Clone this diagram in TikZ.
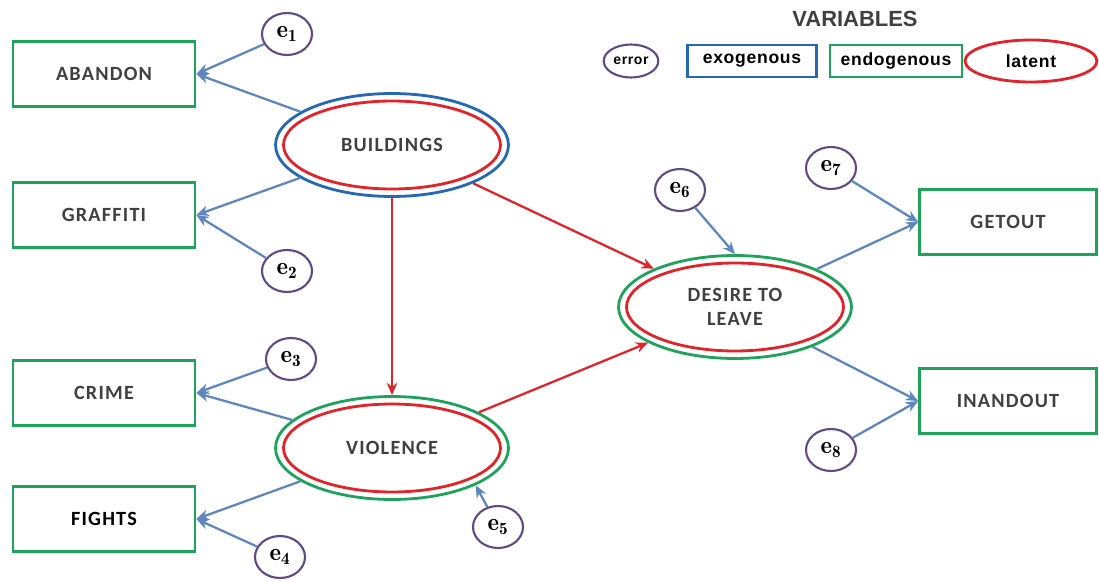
\documentclass[tikz,border=0pt]{standalone}
\usepackage{fontspec}
\usepackage{amsmath}
\newfontfamily\labfont[LetterSpace=6]{Carlito}
\newfontfamily\keyfont[LetterSpace=4]{Liberation Sans}
\newfontfamily\headfont{Liberation Sans}
\usetikzlibrary{positioning,shapes.geometric,arrows.meta}
\definecolor{ink}   {HTML}{404040}
\definecolor{leaf}  {HTML}{1FA25A}
\definecolor{sky}   {HTML}{2369B3}
\definecolor{blood} {HTML}{E0242B}
\definecolor{plum}  {HTML}{5E4A86}
\definecolor{steel} {HTML}{5F86BE}
\tikzset{
  >=Stealth,
  % --- nodes
  obs/.style   = {rectangle, draw=leaf, line width=1.6pt, fill=white,
                  minimum width=3.64cm, minimum height=1.3cm, inner sep=2pt, text=ink,
                  font=\labfont\bfseries\fontsize{11.5}{13}\selectfont},
  lat/.style   = {ellipse, draw=#1, line width=1.6pt, fill=white, align=center,
                  minimum width=4.66cm, minimum height=2.06cm, inner sep=0pt, text=ink,
                  font=\labfont\bfseries\fontsize{11.5}{14}\selectfont,
                  path picture={\draw[blood, line width=1.6pt] (path picture bounding box.center)
                    ellipse [x radius=2.17cm, y radius=0.88cm];}},
  err/.style   = {ellipse, draw=plum, line width=1.2pt, fill=white,
                  minimum width=1cm, minimum height=0.84cm, inner sep=0pt,
                  font=\bfseries\fontsize{14}{16}\selectfont},
  key/.style   = {draw=#1, line width=1.6pt, minimum height=0.64cm, inner sep=1pt,
                  font=\keyfont\bfseries\fontsize{10}{11}\selectfont},
  % --- edges
  e/.style     = {-{Stealth[length=7pt,width=6pt]}, draw=steel, line width=1.3pt},
  er/.style    = {e, draw=blood},
}
\begin{document}
\begin{tikzpicture}[x=0.02cm, y=-0.02cm]
  \useasboundingbox (0,0) rectangle (1099,581);
  % legend
  \node[font=\headfont\bfseries\fontsize{12.5}{14}\selectfont, text=ink] (vars) at (855,19) {VARIABLES};
  \node[key=plum, ellipse, line width=1.2pt, minimum width=1cm, minimum height=0.66cm,
        font=\keyfont\bfseries\fontsize{8}{9}\selectfont] (kerr) at (631,61) {error};
  \node[key=sky, minimum width=2.58cm] (kexo) at (752,61) {exogenous};
  \node[key=leaf, minimum width=2.64cm] (kendo) at (896,61) {endogenous};
  \node[key=blood, ellipse, minimum width=2.64cm, minimum height=0.84cm] (klat) at (1031,61) {latent};
  % observed variables
  \node[obs] (abandon)  at (104,74)   {ABANDON};
  \node[obs] (graffiti) at (104,215)  {GRAFFITI};
  \node[obs] (crime)    at (104,393)  {CRIME};
  \node[obs, text=black] (fights) at (104,519) {FIGHTS};
  \node[obs, minimum width=3.54cm] (getout)   at (1008,222) {GETOUT};
  \node[obs, minimum width=3.54cm] (inandout) at (1008,401) {INANDOUT};
  % latent variables
  \node[lat=sky]  (bld) at (392,145) {BUILDINGS};
  \node[lat=leaf] (vio) at (392,448) {VIOLENCE};
  \node[lat=leaf] (des) at (735,307) {DESIRE TO\\LEAVE};
  % errors
  \node[err] (e1) at (287,34)  {$\mathbf{e}_{\mathbf{1}}$};
  \node[err] (e2) at (287,271) {$\mathbf{e}_{\mathbf{2}}$};
  \node[err] (e3) at (291,359) {$\mathbf{e}_{\mathbf{3}}$};
  \node[err] (e4) at (280,557) {$\mathbf{e}_{\mathbf{4}}$};
  \node[err] (e5) at (498,527) {$\mathbf{e}_{\mathbf{5}}$};
  \node[err] (e6) at (680,190) {$\mathbf{e}_{\mathbf{6}}$};
  \node[err] (e7) at (831,168) {$\mathbf{e}_{\mathbf{7}}$};
  \node[err] (e8) at (831,450) {$\mathbf{e}_{\mathbf{8}}$};
  % measurement paths
  \foreach \a/\b in {bld/abandon,e1/abandon,bld/graffiti,e2/graffiti,
                     vio/crime,e3/crime,vio/fights,e4/fights}
    \draw[e] (\a) -- (\b.east);
  \foreach \a/\b in {des/getout,e7/getout,des/inandout,e8/inandout}
    \draw[e] (\a) -- (\b.west);
  \draw[e] (e5) -- (vio.-24);
  \draw[e] (e6) -- (des.north);
  % structural paths
  \draw[er] (bld) -- (vio);
  \draw[er] (bld) -- (des);
  \draw[er] (vio) -- (des);
\end{tikzpicture}
\end{document}
